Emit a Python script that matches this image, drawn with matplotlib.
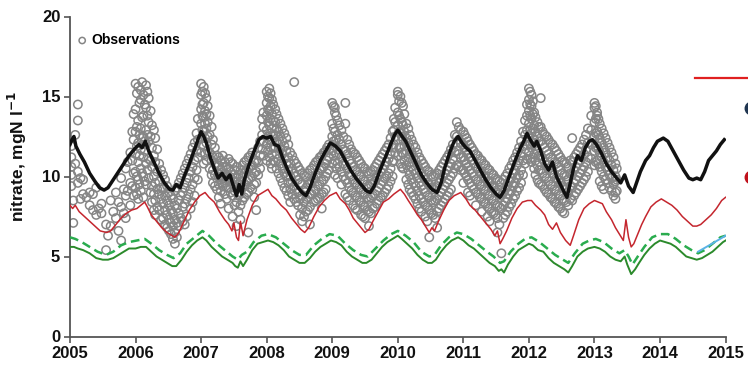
import matplotlib
matplotlib.use("Agg")
import matplotlib.pyplot as plt
from matplotlib.lines import Line2D

plt.rcParams['font.family'] = ['Liberation Sans', 'DejaVu Sans']
plt.rcParams['font.weight'] = 'bold'

# ---------------- data ----------------
x_ticks = [2005, 2006, 2007, 2008, 2009, 2010, 2011, 2012, 2013, 2014, 2015]
y_ticks = [0, 5, 10, 15, 20]

black_t = [2005.00, 2005.03, 2005.06, 2005.09, 2005.15, 2005.22, 2005.30, 2005.38, 2005.45, 2005.52,
           2005.58, 2005.66, 2005.74, 2005.82, 2005.90, 2005.98, 2006.05, 2006.10, 2006.15, 2006.20,
           2006.28, 2006.36, 2006.44, 2006.52, 2006.57, 2006.62, 2006.68, 2006.74, 2006.82, 2006.90,
           2006.96, 2007.00, 2007.04, 2007.08, 2007.14, 2007.20, 2007.26, 2007.32, 2007.38, 2007.44,
           2007.50, 2007.54, 2007.58, 2007.62, 2007.66, 2007.72, 2007.80, 2007.88, 2007.94, 2008.00,
           2008.06, 2008.12, 2008.18, 2008.24, 2008.30, 2008.38, 2008.46, 2008.54, 2008.60, 2008.66,
           2008.74, 2008.82, 2008.90, 2008.97, 2009.05, 2009.12, 2009.20, 2009.28, 2009.36, 2009.44,
           2009.52, 2009.58, 2009.64, 2009.72, 2009.80, 2009.88, 2009.95, 2010.00, 2010.05, 2010.12,
           2010.20, 2010.28, 2010.36, 2010.44, 2010.52, 2010.60, 2010.66, 2010.72, 2010.80, 2010.86,
           2010.92, 2010.98, 2011.04, 2011.10, 2011.18, 2011.26, 2011.34, 2011.42, 2011.50, 2011.56,
           2011.62, 2011.70, 2011.78, 2011.86, 2011.92, 2011.97, 2012.02, 2012.08, 2012.12, 2012.18,
           2012.24, 2012.30, 2012.36, 2012.42, 2012.48, 2012.54, 2012.58, 2012.62, 2012.68, 2012.74,
           2012.80, 2012.86, 2012.92, 2012.97, 2013.03, 2013.10, 2013.18, 2013.26, 2013.34, 2013.40,
           2013.46, 2013.52, 2013.59, 2013.64, 2013.70, 2013.78, 2013.84, 2013.90, 2013.96, 2014.05,
           2014.12, 2014.20, 2014.28, 2014.36, 2014.44, 2014.50, 2014.56, 2014.62, 2014.68, 2014.74,
           2014.80, 2014.86, 2014.92, 2014.98]
black_v = [12.0, 12.3, 12.5, 11.9, 11.4, 10.9, 10.2, 9.7, 9.3, 9.15,
           9.3, 9.8, 10.3, 10.8, 11.3, 11.7, 12.0, 11.8, 12.2, 11.6,
           10.9, 10.2, 9.6, 9.2, 9.15, 9.5, 9.3, 10.0, 10.8, 11.7,
           12.4, 12.8, 12.5, 12.1, 11.2, 10.5, 9.9, 10.2, 9.8, 10.1,
           9.3, 8.8, 9.5, 8.9, 9.8, 10.6, 11.5, 12.3, 12.5, 12.4,
           12.5, 12.0, 11.9, 11.2, 10.6, 9.9, 9.4, 9.0, 8.8, 9.3,
           10.2, 11.0, 11.6, 12.1, 11.9, 11.6, 11.0, 10.4, 9.9, 9.5,
           9.1, 9.0, 9.4, 10.3, 11.1, 11.9, 12.6, 12.9, 12.6, 12.2,
           11.5, 10.8, 10.1, 9.6, 9.2, 9.0, 9.6, 10.6, 11.6, 12.2,
           12.5, 12.1, 11.8, 11.6, 11.0, 10.4, 9.8, 9.3, 8.9, 8.7,
           9.1, 10.0, 10.9, 11.7, 12.2, 12.7, 12.3, 11.9, 12.2, 11.6,
           10.8, 10.4, 10.9, 10.0, 9.5, 9.0, 8.7, 9.4, 10.5, 11.3,
           11.0, 11.8, 12.2, 12.3, 12.0, 11.5, 10.8, 10.3, 9.9, 9.6,
           10.1, 9.4, 9.0, 9.6, 10.3, 11.0, 11.3, 11.8, 12.2, 12.4,
           12.2, 11.6, 11.0, 10.4, 9.9, 9.8, 9.9, 9.8, 10.3, 11.0,
           11.3, 11.6, 12.0, 12.3]

red_t = [2005.00, 2005.04, 2005.08, 2005.14, 2005.22, 2005.30, 2005.38, 2005.46, 2005.56, 2005.62,
         2005.70, 2005.78, 2005.86, 2005.94, 2006.02, 2006.08, 2006.14, 2006.18, 2006.24, 2006.32,
         2006.40, 2006.48, 2006.56, 2006.60, 2006.66, 2006.74, 2006.82, 2006.90, 2006.98, 2007.06,
         2007.12, 2007.20, 2007.28, 2007.36, 2007.42, 2007.47, 2007.50, 2007.54, 2007.57, 2007.60,
         2007.64, 2007.70, 2007.78, 2007.86, 2007.94, 2008.02, 2008.08, 2008.14, 2008.22, 2008.30,
         2008.38, 2008.46, 2008.52, 2008.58, 2008.64, 2008.72, 2008.80, 2008.88, 2008.96, 2009.06,
         2009.12, 2009.20, 2009.26, 2009.32, 2009.38, 2009.44, 2009.50, 2009.56, 2009.62, 2009.70,
         2009.78, 2009.86, 2009.94, 2010.04, 2010.10, 2010.16, 2010.24, 2010.30, 2010.36, 2010.42,
         2010.48, 2010.52, 2010.56, 2010.62, 2010.70, 2010.78, 2010.86, 2010.96, 2011.04, 2011.10,
         2011.18, 2011.26, 2011.34, 2011.42, 2011.48, 2011.52, 2011.56, 2011.60, 2011.66, 2011.74,
         2011.82, 2011.90, 2011.98, 2012.04, 2012.10, 2012.18, 2012.24, 2012.30, 2012.36, 2012.42,
         2012.48, 2012.56, 2012.63, 2012.68, 2012.76, 2012.84, 2012.92, 2013.00, 2013.06, 2013.12,
         2013.18, 2013.26, 2013.32, 2013.38, 2013.44, 2013.48, 2013.52, 2013.56, 2013.60, 2013.66,
         2013.72, 2013.78, 2013.86, 2013.94, 2014.02, 2014.10, 2014.18, 2014.26, 2014.34, 2014.42,
         2014.50, 2014.56, 2014.62, 2014.70, 2014.78, 2014.86, 2014.94, 2015.00]
red_v = [8.2, 8.0, 8.2, 7.8, 7.5, 7.2, 6.9, 6.6, 6.5, 6.6,
         7.0, 7.4, 7.7, 7.9, 8.0, 8.2, 8.4, 8.1, 7.6, 7.2,
         6.8, 6.5, 6.3, 6.2, 6.5, 7.2, 7.9, 8.4, 8.8, 9.0,
         8.7, 8.4, 7.8, 7.3, 7.0, 6.6, 7.1, 6.2, 6.0, 7.2,
         6.3, 7.3, 8.2, 8.8, 9.0, 9.2, 8.8, 8.6, 8.2, 7.9,
         7.4, 7.0, 6.7, 6.5, 6.8, 7.5, 8.1, 8.5, 8.8, 9.0,
         8.6, 8.3, 7.9, 7.4, 7.1, 6.8, 6.5, 6.7, 7.2, 7.8,
         8.4, 8.6, 8.9, 9.2, 8.9, 8.5, 8.0, 7.6, 7.3, 6.9,
         6.5, 6.8, 6.6, 7.2, 7.9, 8.5, 8.8, 9.0, 8.6, 8.2,
         7.9, 7.5, 7.1, 6.7, 6.3, 6.6, 5.8, 6.1, 6.6, 7.4,
         8.0, 8.4, 8.5, 8.5, 8.2, 7.9, 7.6, 7.0, 6.7, 7.1,
         6.5, 6.0, 5.7, 6.3, 7.3, 8.0, 8.3, 8.5, 8.4, 8.3,
         7.8, 7.3, 6.8, 6.4, 6.0, 7.3, 6.2, 5.6, 5.8, 6.4,
         7.0, 7.5, 8.1, 8.4, 8.6, 8.4, 8.2, 7.9, 7.5, 7.2,
         6.9, 6.9, 7.0, 7.3, 7.6, 8.0, 8.5, 8.7]

green_t = [2005.00, 2005.06, 2005.12, 2005.20, 2005.30, 2005.40, 2005.50, 2005.58, 2005.66, 2005.74,
           2005.82, 2005.90, 2006.00, 2006.08, 2006.16, 2006.24, 2006.32, 2006.40, 2006.48, 2006.56,
           2006.62, 2006.70, 2006.78, 2006.86, 2006.94, 2007.02, 2007.08, 2007.16, 2007.24, 2007.32,
           2007.40, 2007.48, 2007.52, 2007.56, 2007.60, 2007.64, 2007.70, 2007.78, 2007.86, 2007.94,
           2008.02, 2008.10, 2008.18, 2008.26, 2008.34, 2008.42, 2008.50, 2008.58, 2008.66, 2008.74,
           2008.82, 2008.90, 2008.98, 2009.06, 2009.14, 2009.22, 2009.30, 2009.38, 2009.46, 2009.52,
           2009.60, 2009.68, 2009.76, 2009.84, 2009.92, 2010.00, 2010.06, 2010.14, 2010.22, 2010.30,
           2010.38, 2010.46, 2010.52, 2010.58, 2010.66, 2010.74, 2010.82, 2010.92, 2011.00, 2011.08,
           2011.16, 2011.24, 2011.32, 2011.40, 2011.48, 2011.54, 2011.58, 2011.62, 2011.68, 2011.76,
           2011.84, 2011.92, 2012.00, 2012.06, 2012.14, 2012.22, 2012.30, 2012.38, 2012.46, 2012.54,
           2012.60, 2012.66, 2012.74, 2012.82, 2012.90, 2013.00, 2013.08, 2013.16, 2013.24, 2013.32,
           2013.40, 2013.46, 2013.50, 2013.56, 2013.62, 2013.68, 2013.76, 2013.84, 2013.92, 2014.00,
           2014.08, 2014.16, 2014.24, 2014.32, 2014.40, 2014.48, 2014.56, 2014.64, 2014.72, 2014.80,
           2014.88, 2014.96, 2015.00]
green_v = [5.6, 5.6, 5.5, 5.4, 5.2, 4.9, 4.8, 4.8, 4.9, 5.1,
           5.3, 5.5, 5.5, 5.6, 5.6, 5.3, 5.0, 4.8, 4.6, 4.4,
           4.4, 4.8, 5.3, 5.7, 6.0, 6.2, 6.0, 5.6, 5.3, 5.0,
           4.8, 4.6, 4.4, 4.3, 4.7, 4.4, 4.8, 5.4, 5.8, 5.9,
           6.0, 5.9, 5.7, 5.4, 5.0, 4.8, 4.6, 4.6, 4.9, 5.3,
           5.6, 5.8, 6.0, 5.9, 5.7, 5.3, 5.0, 4.8, 4.6, 4.6,
           4.8, 5.2, 5.6, 5.9, 6.1, 6.3, 6.1, 5.8, 5.5, 5.1,
           4.8, 4.6, 4.6, 4.8, 5.3, 5.7, 6.0, 6.2, 6.0, 5.7,
           5.5, 5.2, 4.9, 4.6, 4.4, 4.1, 4.2, 4.0, 4.5, 5.0,
           5.4, 5.6, 5.8, 5.7, 5.4, 5.3, 4.9, 4.6, 4.4, 4.2,
           4.0, 4.4, 5.0, 5.3, 5.5, 5.6, 5.5, 5.3, 5.0, 4.8,
           4.7, 5.0, 4.5, 3.9, 4.2, 4.6, 5.1, 5.5, 5.8, 6.0,
           5.9, 5.8, 5.6, 5.3, 5.0, 4.9, 4.8, 4.9, 5.1, 5.3,
           5.6, 5.9, 6.0]

gdash_t = [2005.00, 2005.08, 2005.18, 2005.30, 2005.42, 2005.55, 2005.66, 2005.78, 2005.90, 2006.02,
           2006.14, 2006.24, 2006.36, 2006.48, 2006.58, 2006.68, 2006.78, 2006.90, 2007.02, 2007.12,
           2007.24, 2007.36, 2007.48, 2007.56, 2007.62, 2007.70, 2007.80, 2007.92, 2008.02, 2008.14,
           2008.26, 2008.38, 2008.50, 2008.60, 2008.72, 2008.84, 2008.96, 2009.08, 2009.20, 2009.32,
           2009.44, 2009.54, 2009.66, 2009.78, 2009.90, 2010.00, 2010.12, 2010.24, 2010.36, 2010.48,
           2010.56, 2010.66, 2010.78, 2010.90, 2011.00, 2011.12, 2011.24, 2011.36, 2011.46, 2011.56,
           2011.62, 2011.72, 2011.84, 2011.94, 2012.04, 2012.16, 2012.28, 2012.40, 2012.52, 2012.60,
           2012.70, 2012.82, 2012.92, 2013.02, 2013.14, 2013.26, 2013.38, 2013.46, 2013.52, 2013.58,
           2013.66, 2013.76, 2013.88, 2014.00, 2014.12, 2014.24, 2014.36, 2014.48, 2014.58, 2014.68,
           2014.80, 2014.92, 2015.00]
gdash_v = [6.2, 6.1, 5.9, 5.6, 5.3, 5.1, 5.3, 5.7, 5.9, 6.0,
           6.1, 5.8, 5.4, 5.1, 4.9, 5.2, 5.8, 6.2, 6.6, 6.3,
           5.8, 5.4, 5.0, 4.8, 5.1, 5.3, 5.9, 6.3, 6.4, 6.2,
           5.8, 5.4, 5.1, 5.1, 5.7, 6.1, 6.4, 6.3, 5.8, 5.4,
           5.1, 5.0, 5.5, 6.0, 6.4, 6.6, 6.3, 5.9, 5.3, 5.0,
           5.1, 5.7, 6.2, 6.5, 6.4, 6.1, 5.7, 5.3, 5.0, 4.6,
           4.7, 5.3, 5.8, 6.1, 6.2, 5.9, 5.5, 5.1, 4.8, 4.6,
           5.2, 5.8, 6.0, 6.1, 5.9, 5.5, 5.2, 5.4, 5.0, 4.5,
           5.0, 5.6, 6.2, 6.4, 6.4, 6.1, 5.7, 5.4, 5.2, 5.4,
           5.8, 6.2, 6.3]

cyan_t = [2014.58, 2014.75, 2015.00]
cyan_v = [5.3, 5.7, 6.3]

# observation sampling dates and the values measured on each date (main sampling)
obs_dates = [
    2005.02, 2005.05, 2005.12, 2005.20, 2005.30, 2005.40, 2005.48, 2005.55, 2005.62, 2005.70,
    2005.78, 2005.85, 2005.92, 2005.97,
    2006.00, 2006.04, 2006.08, 2006.12, 2006.16, 2006.20, 2006.25, 2006.30, 2006.36, 2006.42,
    2006.48, 2006.54, 2006.60, 2006.66, 2006.72, 2006.78, 2006.84, 2006.90, 2006.95,
    2007.00, 2007.04, 2007.08, 2007.13, 2007.18, 2007.24, 2007.30, 2007.36, 2007.42, 2007.48,
    2007.54, 2007.60, 2007.66, 2007.72, 2007.78, 2007.84, 2007.90, 2007.95,
    2008.00, 2008.04, 2008.08, 2008.13, 2008.18, 2008.24, 2008.30, 2008.36, 2008.42, 2008.48,
    2008.54, 2008.60, 2008.66, 2008.72, 2008.78, 2008.84, 2008.90, 2008.95,
    2009.00, 2009.04, 2009.08, 2009.14, 2009.20, 2009.26, 2009.32, 2009.38, 2009.44, 2009.50,
    2009.56, 2009.62, 2009.68, 2009.74, 2009.80, 2009.86, 2009.92, 2009.96,
    2010.00, 2010.04, 2010.08, 2010.13, 2010.18, 2010.24, 2010.30, 2010.36, 2010.42, 2010.48,
    2010.54, 2010.60, 2010.66, 2010.72, 2010.78, 2010.84, 2010.90, 2010.96,
    2011.00, 2011.05, 2011.10, 2011.16, 2011.22, 2011.28, 2011.34, 2011.40, 2011.46, 2011.52,
    2011.58, 2011.64, 2011.70, 2011.76, 2011.82, 2011.88, 2011.94,
    2012.00, 2012.04, 2012.08, 2012.13, 2012.18, 2012.24, 2012.30, 2012.36, 2012.42, 2012.48,
    2012.54, 2012.60, 2012.66, 2012.72, 2012.78, 2012.84, 2012.90,
    2013.00, 2013.04, 2013.08, 2013.14, 2013.20, 2013.26, 2013.32]
obs_values = [
    [11.9, 11.2, 10.6, 10.1, 9.4], [8.5, 7.1], [14.5, 13.5, 10.3, 9.6], [9.8, 8.9], [9.0, 8.2],
    [9.3, 7.6], [8.3, 7.7], [5.4, 7.0], [8.5, 6.9], [7.4, 9.0],
    [9.9, 8.1, 6.0], [10.5, 8.8, 7.4], [11.5, 9.6, 8.2], [12.3, 10.2, 8.8, 13.9],
    [15.8, 14.2, 12.8, 11.4, 10.3, 9.3], [15.6, 13.5, 12.1, 10.9, 9.8, 8.6],
    [15.4, 14.8, 13.0, 11.7, 10.5, 9.1], [15.1, 13.8, 12.5, 11.2, 10.0, 8.7],
    [15.7, 14.3, 12.9, 12.0, 10.8, 9.5], [14.9, 13.4, 12.2, 11.1, 9.9],
    [13.2, 11.8, 10.6, 9.4, 8.4], [12.4, 10.9, 9.6, 8.5, 7.6], [10.8, 9.7, 8.9, 7.9],
    [10.1, 9.2, 8.3, 7.4], [9.4, 8.5, 7.6, 6.8], [8.8, 7.9, 7.1, 6.4], [9.1, 8.2, 7.3, 6.5, 5.8],
    [9.6, 8.5, 7.7, 6.9], [10.2, 9.0, 8.1, 7.2], [10.8, 9.6, 8.6, 7.5], [11.4, 10.3, 9.2, 8.0],
    [12.1, 11.0, 9.9, 8.8], [13.6, 12.3, 11.2, 9.8],
    [15.8, 15.1, 14.2, 13.3, 12.4, 11.5], [15.6, 14.6, 13.7, 12.8, 11.9, 10.8],
    [14.9, 13.9, 13.0, 12.1, 11.0], [13.8, 12.6, 11.5, 10.5], [12.3, 11.2, 10.4, 9.6],
    [11.3, 10.6, 9.9, 9.2], [11.0, 10.4, 9.8, 9.1, 8.3], [10.9, 10.2, 9.6, 8.9],
    [11.1, 10.5, 9.9, 9.3, 8.0], [10.8, 10.1, 9.5, 8.8, 7.5], [10.6, 9.9, 9.3, 8.4, 6.9],
    [10.4, 9.7, 9.0, 8.2, 7.3], [10.9, 10.2, 9.5, 8.7], [11.2, 10.5, 9.8, 9.0, 6.5],
    [11.5, 10.7, 10.0, 9.2], [11.0, 10.3, 9.6, 7.9], [12.2, 11.3, 10.5], [14.0, 13.1, 12.2, 11.3],
    [15.3, 14.6, 13.8, 12.9, 12.0, 11.0], [15.5, 14.9, 14.1, 13.2, 12.3, 11.2],
    [14.8, 13.9, 13.0, 12.2, 11.4, 10.5], [14.2, 13.4, 12.6, 11.8, 10.9],
    [13.6, 12.8, 12.0, 11.1, 10.2], [13.0, 12.2, 11.4, 10.5, 9.6], [12.4, 11.6, 10.8, 10.0, 9.1],
    [11.5, 10.8, 10.0, 9.2, 8.4], [15.9, 11.0, 10.2, 9.4, 8.6], [10.6, 9.8, 9.0, 8.2],
    [10.2, 9.5, 8.8, 8.0, 7.2], [10.0, 9.3, 8.6, 7.8], [10.4, 9.6, 8.9, 8.1, 7.0],
    [10.7, 9.9, 9.1, 8.4], [11.0, 10.2, 9.4, 8.6], [11.3, 10.5, 9.7, 8.9, 8.0],
    [11.6, 10.8, 10.0, 9.2], [12.0, 11.2, 10.4],
    [14.6, 13.3, 12.5, 11.6, 10.8], [14.3, 14.0, 12.8, 11.9, 11.0, 10.1],
    [13.5, 12.6, 11.7, 10.8, 9.9], [12.9, 12.0, 11.2, 10.3, 9.5],
    [14.6, 13.3, 11.6, 10.7, 9.8, 8.9], [12.0, 11.0, 10.1, 9.3, 8.5], [11.5, 10.6, 9.8, 9.0, 8.2],
    [11.2, 10.3, 9.5, 8.7, 7.9], [10.8, 10.0, 9.2, 8.4, 7.6], [10.5, 9.7, 8.9, 8.1, 7.4],
    [10.2, 9.4, 8.6, 7.8, 6.9], [10.4, 9.6, 8.8, 8.0], [10.8, 9.9, 9.1, 8.3], [11.2, 10.3, 9.5, 8.7],
    [11.6, 10.7, 9.9, 9.0], [12.0, 11.1, 10.2, 9.4], [12.8, 11.8, 10.9, 10.0], [14.3, 13.4, 12.5, 11.5],
    [15.3, 15.1, 14.0, 13.2, 12.3, 11.3], [15.0, 13.6, 12.7, 11.8, 10.8],
    [14.4, 13.2, 12.3, 11.4, 10.5], [13.3, 12.4, 11.6, 10.7, 9.8], [12.6, 11.8, 10.9, 10.1, 9.2],
    [12.0, 11.2, 10.4, 9.6, 8.8], [11.5, 10.7, 9.9, 9.1, 8.3], [11.0, 10.2, 9.4, 8.6, 7.8],
    [10.6, 9.8, 9.0, 8.2, 7.5], [10.3, 9.5, 8.7, 7.9, 6.2], [10.0, 9.2, 8.4, 7.6],
    [10.2, 9.4, 8.6, 7.8, 6.8], [10.6, 9.8, 9.0, 8.2], [11.0, 10.2, 9.4, 8.6], [11.4, 10.6, 9.8, 9.0],
    [12.0, 11.1, 10.2], [13.4, 12.5, 11.6, 10.7], [12.9, 12.1, 11.2, 10.4],
    [12.8, 12.0, 11.2, 10.4, 9.6], [12.4, 11.6, 10.8, 10.0], [12.0, 11.2, 10.4, 9.6, 8.8],
    [11.6, 10.8, 10.0, 9.2], [11.3, 10.5, 9.7, 8.9], [11.0, 10.2, 9.4, 8.6, 7.8],
    [10.7, 9.9, 9.1, 8.3], [10.4, 9.6, 8.8, 8.0, 7.2], [10.1, 9.3, 8.5, 7.7],
    [9.8, 9.0, 8.2, 7.4, 6.5], [9.6, 8.8, 8.0, 5.2], [10.0, 9.2, 8.4, 7.6], [10.5, 9.7, 8.9, 8.1],
    [11.0, 10.2, 9.4, 8.6], [11.5, 10.7, 9.9, 9.1], [12.2, 11.3, 10.4, 9.6], [13.5, 12.6, 11.7, 10.8],
    [15.5, 14.8, 14.1, 13.3, 12.4, 11.5], [15.1, 14.4, 13.6, 12.7, 11.8, 10.9],
    [14.0, 13.2, 12.3, 11.4, 10.5], [13.4, 12.5, 11.6, 10.7, 9.8],
    [14.9, 13.1, 12.2, 11.3, 10.4, 9.5], [12.6, 11.8, 10.9, 10.0, 9.2],
    [12.3, 11.4, 10.5, 9.7, 8.9], [12.0, 11.1, 10.2, 9.4, 8.6], [11.6, 10.8, 9.9, 9.1, 8.3],
    [11.2, 10.4, 9.6, 8.8, 8.0], [10.9, 10.1, 9.3, 8.5, 7.7], [10.6, 9.8, 9.0, 8.2],
    [12.4, 10.9, 10.1, 9.3, 8.5], [11.4, 10.6, 9.8, 9.0], [11.8, 11.0, 10.2, 9.4],
    [12.3, 11.4, 10.6, 9.8], [13.0, 12.1, 11.2, 10.3],
    [14.6, 14.3, 13.4, 12.5, 11.6, 10.7], [14.0, 13.8, 12.8, 11.9, 11.0],
    [13.3, 12.4, 11.5, 10.6, 9.7], [12.7, 11.8, 10.9, 10.0, 9.2], [12.1, 11.2, 10.4, 9.6],
    [11.5, 10.7, 9.9, 9.1], [10.8, 10.0, 9.7, 9.0, 8.6]]

# second set of sampling dates (other stations)
obs2_dates = [
    2005.08, 2005.16, 2005.25, 2005.35, 2005.44, 2005.58, 2005.66, 2005.74, 2005.82, 2005.88, 2005.95,
    2006.02, 2006.06, 2006.10, 2006.14, 2006.18, 2006.23, 2006.28, 2006.33, 2006.39, 2006.45,
    2006.51, 2006.57, 2006.63, 2006.69, 2006.75, 2006.81, 2006.87, 2006.93,
    2007.02, 2007.06, 2007.10, 2007.16, 2007.21, 2007.27, 2007.33, 2007.39, 2007.45, 2007.51,
    2007.57, 2007.63, 2007.69, 2007.75, 2007.81, 2007.87, 2007.93,
    2008.02, 2008.06, 2008.10, 2008.15, 2008.21, 2008.27, 2008.33, 2008.39, 2008.45, 2008.51,
    2008.57, 2008.63, 2008.69, 2008.75, 2008.81, 2008.87, 2008.92,
    2009.02, 2009.06, 2009.11, 2009.17, 2009.23, 2009.29, 2009.35, 2009.41, 2009.47, 2009.53,
    2009.59, 2009.65, 2009.71, 2009.77, 2009.83, 2009.89, 2009.94,
    2010.02, 2010.06, 2010.10, 2010.16, 2010.21, 2010.27, 2010.33, 2010.39, 2010.45, 2010.51,
    2010.57, 2010.63, 2010.69, 2010.75, 2010.81, 2010.87, 2010.93,
    2011.02, 2011.07, 2011.13, 2011.19, 2011.25, 2011.31, 2011.37, 2011.43, 2011.49, 2011.55,
    2011.61, 2011.67, 2011.73, 2011.79, 2011.85, 2011.91, 2011.97,
    2012.02, 2012.06, 2012.10, 2012.15, 2012.21, 2012.27, 2012.33, 2012.39, 2012.45, 2012.51,
    2012.57, 2012.63, 2012.69, 2012.75, 2012.81, 2012.87, 2012.95,
    2013.02, 2013.06, 2013.11, 2013.17, 2013.23, 2013.29, 2013.34]
obs2_values = [
    [12.6, 10.8], [9.9, 8.6], [8.7], [8.9, 7.9], [8.0], [6.3], [7.8], [8.4, 6.6], [9.2, 7.7],
    [10.9, 9.1], [12.8, 11.0, 9.4],
    [15.2, 13.1, 11.9, 10.0, 8.9], [14.6, 12.6, 11.3, 9.5], [15.9, 13.7, 12.4, 10.2],
    [14.5, 12.2, 11.6, 9.7], [15.3, 13.8, 12.6, 10.4], [14.1, 12.5, 11.0, 9.0],
    [12.9, 11.3, 10.0, 8.9, 7.9], [11.7, 10.3, 9.2, 8.1], [10.4, 9.3, 8.6, 7.3],
    [9.8, 8.8, 7.9, 7.0], [9.0, 8.2, 7.3, 6.6], [8.6, 7.7, 6.9, 6.1], [9.3, 8.0, 7.1, 6.2],
    [9.9, 8.8, 7.4], [10.5, 9.3, 8.3, 7.0], [11.1, 9.9, 8.9], [11.8, 10.6, 9.5, 8.4],
    [12.7, 11.6, 10.4],
    [15.3, 14.5, 13.8, 12.9, 12.0], [15.2, 14.1, 13.3, 12.4, 11.4], [14.4, 13.4, 12.5, 11.6],
    [13.1, 12.0, 11.0, 10.1], [11.8, 10.8, 10.1, 9.4], [11.2, 10.7, 10.0, 9.5, 8.7],
    [11.3, 10.6, 10.0, 9.4], [10.6, 10.0, 9.3, 8.6], [10.9, 10.3, 9.7, 9.0],
    [10.4, 9.7, 9.1, 8.2], [10.1, 9.5, 8.8, 7.8], [10.7, 10.0, 9.3, 8.5],
    [11.0, 10.4, 9.7, 8.9], [11.3, 10.6, 9.9, 9.3], [10.9, 10.2, 9.5, 8.7],
    [11.8, 10.9, 10.1], [13.6, 12.6, 11.7],
    [15.0, 14.2, 13.4, 12.5, 11.6], [15.2, 14.4, 13.6, 12.7, 11.8, 10.8],
    [14.5, 13.5, 12.6, 11.8, 11.0], [13.9, 13.0, 12.2, 11.4, 10.5],
    [13.3, 12.5, 11.7, 10.8, 9.9], [12.7, 11.9, 11.1, 10.2, 9.3],
    [12.0, 11.2, 10.4, 9.6, 8.8], [11.3, 10.5, 9.7, 8.9], [10.8, 10.0, 9.2, 8.4],
    [10.4, 9.6, 8.6, 7.6], [10.1, 9.1, 8.4, 7.5], [10.2, 9.5, 8.7, 7.9], [10.5, 9.7, 8.9],
    [10.9, 10.1, 9.2, 8.5], [11.2, 10.4, 9.5, 8.7], [11.5, 10.6, 9.8, 9.0], [11.8, 11.0, 10.2],
    [14.4, 13.0, 12.2, 11.3], [13.8, 12.3, 11.4, 10.5], [13.2, 12.3, 11.4, 10.6],
    [12.5, 11.7, 10.8, 10.0], [12.3, 11.4, 10.5, 9.6, 8.7], [11.7, 10.8, 10.0, 9.1],
    [11.4, 10.4, 9.6, 8.8, 8.0], [11.0, 10.1, 9.3, 8.5], [10.6, 9.8, 9.0, 8.2, 7.5],
    [10.3, 9.5, 8.7, 7.9], [10.3, 9.5, 8.7, 7.7], [10.6, 9.7, 8.9, 8.1],
    [11.0, 10.1, 9.3, 8.5], [11.4, 10.5, 9.7, 8.8], [11.8, 10.9, 10.0, 9.2],
    [12.4, 11.4, 10.5, 9.7], [13.6, 12.9, 12.0, 11.0],
    [14.7, 13.8, 12.8, 11.8], [14.6, 13.4, 12.5, 11.5, 10.6], [13.9, 12.8, 11.9, 11.0],
    [13.0, 12.1, 11.2, 10.4, 9.5], [12.3, 11.5, 10.6, 9.8, 9.0], [11.8, 11.0, 10.2, 9.4, 8.6],
    [11.2, 10.4, 9.6, 8.8, 8.0], [10.8, 10.0, 9.2, 8.4], [10.4, 9.6, 8.8, 8.1, 7.2],
    [10.1, 9.3, 8.5, 7.7], [10.1, 9.3, 8.5, 7.4], [10.4, 9.6, 8.8, 8.0],
    [10.8, 10.0, 9.2, 8.4], [11.2, 10.4, 9.6, 8.8], [11.7, 10.8, 10.0, 9.2],
    [12.6, 11.5, 10.5], [13.1, 12.3, 11.4, 10.6],
    [12.6, 11.8, 11.0, 10.2], [12.2, 11.4, 10.6, 9.8, 9.0], [11.8, 11.0, 10.2, 9.4],
    [11.4, 10.6, 9.8, 9.0, 8.2], [11.1, 10.3, 9.5, 8.7], [10.8, 10.0, 9.2, 8.4],
    [10.5, 9.7, 8.9, 8.1, 7.5], [10.2, 9.4, 8.6, 7.8], [9.9, 9.1, 8.3, 7.6],
    [9.7, 8.9, 8.1, 7.0], [9.8, 9.0, 8.2, 7.4], [10.2, 9.4, 8.6, 7.8],
    [10.7, 9.9, 9.1, 8.3], [11.2, 10.4, 9.6, 8.8], [11.8, 11.0, 10.1, 9.3],
    [12.8, 11.9, 11.0, 10.1], [14.5, 13.8, 12.9, 12.0, 11.1],
    [15.3, 14.5, 13.8, 12.9, 12.0, 11.1], [14.7, 13.9, 13.0, 12.1, 11.2],
    [13.7, 12.8, 11.9, 11.0, 10.1], [13.1, 12.2, 11.3, 10.4, 9.6],
    [12.8, 12.0, 11.1, 10.2, 9.4], [12.5, 11.6, 10.7, 9.9, 9.0], [12.1, 11.2, 10.4, 9.5, 8.7],
    [11.8, 10.9, 10.1, 9.2, 8.4], [11.4, 10.6, 9.8, 8.9, 8.1], [11.0, 10.2, 9.4, 8.6, 7.8],
    [10.8, 10.0, 9.2, 8.4], [11.0, 10.2, 9.4, 8.6], [11.2, 10.4, 9.6, 8.8],
    [11.6, 10.8, 10.0, 9.2], [12.0, 11.2, 10.4, 9.6], [12.6, 11.7, 10.9, 10.0],
    [13.8, 12.9, 12.0, 11.1],
    [14.4, 13.6, 12.7, 11.8, 10.9], [13.6, 12.6, 11.7, 10.8], [13.0, 12.1, 11.2, 10.3, 9.4],
    [12.4, 11.5, 10.6, 9.8], [11.8, 11.0, 10.1, 9.3], [11.2, 10.4, 9.5, 8.8], [10.5, 9.8, 9.1]]

# ---------------- plot ----------------
fig = plt.figure(figsize=(7.48, 3.68), dpi=100)
ax = fig.add_axes([70 / 748, 1 - 336.5 / 368, (725.6 - 70) / 748, (336.5 - 16.5) / 368])

obs_t = []
obs_v = []
for dates, values in ((obs_dates, obs_values), (obs2_dates, obs2_values)):
    for d, vals in zip(dates, values):
        for v in vals:
            obs_t.append(d)
            obs_v.append(v)

ax.scatter(obs_t, obs_v, s=36, facecolors='none', edgecolors='#858585',
           linewidths=1.1, zorder=1, label='Observations')
ax.plot(black_t, black_v, color='#111111', lw=2.5, zorder=3)
ax.plot(red_t, red_v, color='#c4262e', lw=1.1, zorder=3)
ax.plot(green_t, green_v, color='#2b8a2b', lw=1.4, zorder=3)
ax.plot(gdash_t, gdash_v, color='#2aac4e', lw=1.8, ls=(0, (3.5, 2)), zorder=3)
ax.plot(cyan_t, cyan_v, color='#5ab3e6', lw=1.4, zorder=3)

ax.set_xlim(2005, 2015)
ax.set_ylim(0, 20)
ax.set_xticks(x_ticks)
ax.set_yticks(y_ticks)
ax.set_xticklabels([str(x) for x in x_ticks], fontsize=12, fontweight='bold', color='#111111')
ax.set_yticklabels([str(y) for y in y_ticks], fontsize=12, fontweight='bold', color='#111111')
ax.tick_params(axis='both', direction='out', length=4, width=1.2, color='#555555', pad=3)
for s in ['top', 'right']:
    ax.spines[s].set_visible(False)
for s in ['left', 'bottom']:
    ax.spines[s].set_color('#555555')
    ax.spines[s].set_linewidth(1.3)

ax.set_ylabel('nitrate, mgN l$^{\\mathbf{-1}}$', fontsize=12.5, fontweight='bold',
              color='#111111')
ax.yaxis.set_label_coords(-0.063, 0.5625)

leg = ax.legend(loc='upper left', bbox_to_anchor=(0.008, 0.948), frameon=False,
                fontsize=10, handlelength=1.0, handletextpad=0.15, borderpad=0,
                borderaxespad=0, markerscale=0.75)
for t in leg.get_texts():
    t.set_fontweight('bold')

# cut-off legend fragments at the right edge
fig.add_artist(Line2D([695 / 748, 1.0], [1 - 78 / 368, 1 - 78 / 368],
                      transform=fig.transFigure, color='#e02020', lw=1.6))
fig.add_artist(Line2D([751 / 748], [1 - 108 / 368], transform=fig.transFigure,
                      marker='o', markersize=9, color='#1f3550', lw=0))
fig.add_artist(Line2D([751 / 748], [1 - 177 / 368], transform=fig.transFigure,
                      marker='o', markersize=9, color='#c0101a', lw=0))

fig.savefig('out.png', dpi=100)
